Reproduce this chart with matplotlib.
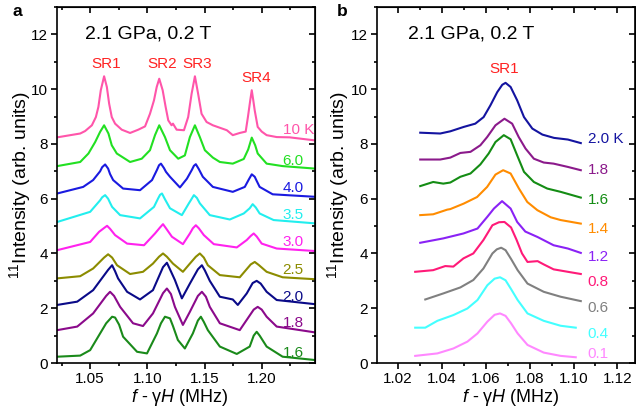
import matplotlib
matplotlib.use("Agg")
import matplotlib.pyplot as plt
from matplotlib.ticker import MultipleLocator

plt.rcParams["font.family"] = ["Liberation Sans", "DejaVu Sans"]
plt.rcParams["mathtext.fontset"] = "custom"
plt.rcParams["mathtext.rm"] = "Liberation Sans"
plt.rcParams["mathtext.it"] = "Liberation Sans:italic"

# ── panel a: spectra at 2.1 GPa, 0.2 T (offset by temperature) ───────────────
x_a_10 = [1.0212, 1.0413, 1.0456, 1.0515, 1.0550, 1.0572, 1.0593, 1.0622, 1.0646,
          1.0666, 1.0689, 1.0718, 1.0776, 1.0849, 1.0921, 1.0980, 1.1023, 1.1058,
          1.1082, 1.1104, 1.1134, 1.1160, 1.1183, 1.1212, 1.1224, 1.1256, 1.1320,
          1.1357, 1.1387, 1.1416, 1.1444, 1.1474, 1.1518, 1.1573, 1.1695, 1.1747,
          1.1808, 1.1860, 1.1880, 1.1900, 1.1913, 1.1926, 1.1939, 1.1965, 1.2000,
          1.2043, 1.2131, 1.2244, 1.2462]
y_a_10 = [8.24, 8.38, 8.47, 8.68, 8.98, 9.35, 9.96, 10.47, 10.08,
          9.47, 8.98, 8.74, 8.52, 8.40, 8.52, 8.64, 9.10, 9.59,
          10.08, 10.38, 9.96, 9.35, 8.86, 8.68, 8.74, 8.52, 8.50,
          8.98, 9.83, 10.47, 9.83, 9.10, 8.80, 8.68, 8.50, 8.32,
          8.40, 8.45, 9.00, 9.60, 9.96, 9.60, 9.22, 8.62, 8.45,
          8.32, 8.25, 8.24, 8.13]

x_a_6 = [1.0212, 1.0413, 1.0485, 1.0544, 1.0587, 1.0622, 1.0660, 1.0689, 1.0733,
         1.0849, 1.0951, 1.1023, 1.1067, 1.1104, 1.1154, 1.1198, 1.1270, 1.1328,
         1.1372, 1.1416, 1.1459, 1.1503, 1.1573, 1.1634, 1.1747, 1.1843, 1.1882,
         1.1913, 1.1943, 1.1965, 1.2043, 1.2183, 1.2462]
y_a_6 = [7.19, 7.34, 7.65, 8.07, 8.44, 8.68, 8.38, 7.95, 7.65,
         7.34, 7.46, 7.77, 8.32, 8.68, 8.25, 7.77, 7.46, 7.58,
         8.25, 8.68, 8.25, 7.77, 7.50, 7.34, 7.28, 7.45, 7.80,
         8.23, 7.95, 7.65, 7.28, 7.19, 7.10]

x_a_4 = [1.0212, 1.0439, 1.0526, 1.0587, 1.0605, 1.0631, 1.0657, 1.0674, 1.0701,
         1.0788, 1.0936, 1.1041, 1.1084, 1.1102, 1.1119, 1.1145, 1.1163, 1.1198,
         1.1285, 1.1346, 1.1389, 1.1407, 1.1424, 1.1450, 1.1485, 1.1573, 1.1747,
         1.1852, 1.1887, 1.1913, 1.1939, 1.1956, 1.1982, 1.2096, 1.2462]
y_a_4 = [6.19, 6.43, 6.68, 7.00, 7.15, 7.25, 7.10, 6.90, 6.68,
         6.37, 6.31, 6.68, 7.05, 7.22, 7.28, 7.12, 6.98, 6.80,
         6.41, 6.73, 7.05, 7.20, 7.26, 7.08, 6.80, 6.43, 6.25,
         6.43, 6.70, 6.89, 6.80, 6.65, 6.43, 6.16, 6.07]

x_a_35 = [1.0212, 1.05, 1.0587, 1.0605, 1.0631, 1.0657, 1.0674, 1.0692, 1.0762,
          1.0936, 1.1058, 1.1093, 1.1111, 1.1128, 1.1154, 1.1198, 1.1302, 1.1363,
          1.1381, 1.1407, 1.1433, 1.1459, 1.1546, 1.1721, 1.1843, 1.1895, 1.1921,
          1.1948, 1.1982, 1.2104, 1.2462]
y_a_35 = [5.15, 5.52, 5.94, 6.05, 6.13, 6.00, 5.85, 5.70, 5.40,
          5.28, 5.70, 6.00, 6.14, 6.19, 5.98, 5.65, 5.40, 5.83,
          5.95, 6.13, 6.03, 5.83, 5.40, 5.24, 5.46, 5.65, 5.80,
          5.68, 5.46, 5.22, 5.10]

x_a_3 = [1.0212, 1.05, 1.0578, 1.0622, 1.0648, 1.0674, 1.0718, 1.0823, 1.0971,
         1.1067, 1.1111, 1.1137, 1.1163, 1.1215, 1.1311, 1.1372, 1.1398, 1.1424,
         1.1450, 1.1494, 1.1581, 1.1782, 1.1869, 1.1904, 1.1930, 1.1956, 1.2000,
         1.2131, 1.2462]
y_a_3 = [4.12, 4.42, 4.79, 4.93, 5.01, 4.90, 4.67, 4.36, 4.30,
         4.73, 4.95, 5.07, 4.92, 4.61, 4.34, 4.73, 4.92, 5.03,
         4.92, 4.67, 4.34, 4.22, 4.49, 4.64, 4.73, 4.62, 4.36,
         4.18, 4.09]

x_a_25 = [1.0212, 1.0413, 1.0526, 1.0622, 1.0657, 1.0692, 1.0735, 1.0849, 1.0962,
          1.1049, 1.1102, 1.1137, 1.1171, 1.1224, 1.1311, 1.1372, 1.1424, 1.1459,
          1.1494, 1.1529, 1.1634, 1.1808, 1.1904, 1.1939, 1.1974, 1.2043, 1.2183,
          1.2462]
y_a_25 = [3.09, 3.17, 3.45, 3.85, 3.97, 3.85, 3.57, 3.25, 3.33,
          3.63, 3.88, 4.00, 3.88, 3.63, 3.33, 3.63, 3.88, 4.00,
          3.85, 3.57, 3.21, 3.13, 3.60, 3.69, 3.58, 3.33, 3.13,
          3.06]

x_a_2 = [1.0212, 1.0387, 1.0526, 1.0657, 1.0692, 1.0718, 1.0744, 1.0823, 1.0936,
         1.1049, 1.1137, 1.1171, 1.1198, 1.1241, 1.1302, 1.1372, 1.1442, 1.1477,
         1.1503, 1.1546, 1.1634, 1.1747, 1.1791, 1.1869, 1.1921, 1.1956, 1.1991,
         1.2043, 1.2131, 1.2462]
y_a_2 = [2.12, 2.24, 2.66, 3.40, 3.57, 3.35, 3.09, 2.60, 2.32,
         2.66, 3.50, 3.66, 3.42, 3.03, 2.36, 2.90, 3.42, 3.57,
         3.38, 3.00, 2.42, 2.32, 2.12, 2.54, 2.92, 3.00, 2.90,
         2.60, 2.30, 2.15]

x_a_18 = [1.0212, 1.0387, 1.0526, 1.0640, 1.0674, 1.0709, 1.0762, 1.0875, 1.0962,
          1.1049, 1.1137, 1.1171, 1.1206, 1.1241, 1.1311, 1.1372, 1.1442, 1.1477,
          1.1512, 1.1546, 1.1634, 1.1808, 1.1930, 1.1965, 1.2000, 1.2043, 1.2131,
          1.2462]
y_a_18 = [1.20, 1.33, 1.81, 2.45, 2.60, 2.45, 2.05, 1.45, 1.35,
          1.81, 2.55, 2.72, 2.52, 2.05, 1.39, 1.87, 2.45, 2.60,
          2.42, 2.05, 1.45, 1.20, 1.95, 2.05, 1.95, 1.69, 1.33,
          1.12]

x_a_16 = [1.0212, 1.0413, 1.05, 1.0587, 1.0640, 1.0692, 1.0718, 1.0753, 1.0788,
          1.0910, 1.0997, 1.1084, 1.1119, 1.1154, 1.1198, 1.1224, 1.1267, 1.1328,
          1.1398, 1.1442, 1.1468, 1.1494, 1.1529, 1.1634, 1.1782, 1.1895, 1.1930,
          1.1956, 1.1982, 1.2043, 1.2183, 1.2462]
y_a_16 = [0.23, 0.27, 0.47, 1.08, 1.45, 1.69, 1.66, 1.40, 0.96,
          0.41, 0.35, 1.08, 1.45, 1.69, 1.63, 1.35, 0.84, 0.53,
          1.08, 1.55, 1.69, 1.50, 1.20, 0.60, 0.33, 0.60, 1.00,
          1.14, 1.00, 0.60, 0.23, 0.11]

labels_a = ["10 K", "6.0", "4.0", "3.5", "3.0", "2.5", "2.0", "1.8", "1.6"]
label_y_a = [8.5, 7.37, 6.38, 5.4, 4.42, 3.39, 2.42, 1.45, 0.38]
colors_a = ["#FF55AA", "#22E022", "#1A1AE0", "#22EEEE", "#FF22EE",
            "#8C8C00", "#0A0A88", "#8B0A8B", "#1A8A1A"]
peaks_a = ["SR1", "SR2", "SR3", "SR4"]
peak_x_a = [1.064, 1.1128, 1.1433, 1.1948]
peak_y_a = [10.9, 10.9, 10.9, 10.4]

# ── panel b: SR1 line at low temperature ──────────────────────────────────────
x_b_20 = [1.0301, 1.0392, 1.0438, 1.0499, 1.0552, 1.0590, 1.0621, 1.0652, 1.0675,
          1.0690, 1.0713, 1.0743, 1.0774, 1.0812, 1.0858, 1.0911, 1.0974, 1.1033]
y_b_20 = [8.41, 8.38, 8.46, 8.62, 8.74, 8.98, 9.41, 9.89, 10.16,
          10.23, 10.08, 9.59, 8.98, 8.56, 8.34, 8.22, 8.16, 8.03]

x_b_18 = [1.0301, 1.0392, 1.0438, 1.0484, 1.0530, 1.0575, 1.0606, 1.0644, 1.0685,
          1.0720, 1.0750, 1.0781, 1.0819, 1.0864, 1.0909, 1.0974, 1.1033]
y_b_18 = [7.43, 7.43, 7.50, 7.67, 7.71, 7.95, 8.25, 8.68, 8.92,
          8.74, 8.25, 7.83, 7.46, 7.32, 7.28, 7.16, 7.04]

x_b_16 = [1.0301, 1.0360, 1.0406, 1.0438, 1.0484, 1.0530, 1.0575, 1.0613, 1.0644,
          1.0682, 1.0713, 1.0743, 1.0774, 1.0819, 1.0880, 1.0941, 1.1033]
y_b_16 = [6.46, 6.61, 6.55, 6.59, 6.80, 6.92, 7.25, 7.65, 8.07,
          8.32, 8.17, 7.58, 6.98, 6.61, 6.37, 6.25, 6.04]

x_b_14 = [1.0301, 1.0360, 1.0424, 1.0438, 1.0499, 1.0560, 1.0606, 1.0644, 1.0679,
          1.0713, 1.0751, 1.0789, 1.0835, 1.0896, 1.0941, 1.1033]
y_b_14 = [5.40, 5.43, 5.60, 5.62, 5.82, 6.06, 6.43, 6.88, 7.04,
          6.92, 6.37, 5.88, 5.58, 5.32, 5.22, 5.09]

x_b_12 = [1.0301, 1.0406, 1.0498, 1.0562, 1.0607, 1.0637, 1.0674, 1.0713, 1.0743,
          1.0780, 1.0836, 1.0909, 1.0974, 1.1033]
y_b_12 = [4.39, 4.55, 4.73, 4.91, 5.34, 5.64, 5.91, 5.64, 5.15,
          4.80, 4.60, 4.30, 4.18, 4.02]

x_b_08 = [1.0278, 1.0360, 1.0415, 1.0452, 1.0498, 1.0543, 1.0589, 1.0630, 1.0660,
          1.0685, 1.0715, 1.0740, 1.0765, 1.0790, 1.0836, 1.0864, 1.0909, 1.0974,
          1.1033]
y_b_08 = [3.33, 3.39, 3.54, 3.52, 3.82, 4.00, 4.49, 5.03, 5.14,
          5.15, 4.95, 4.50, 4.00, 3.69, 3.72, 3.60, 3.42, 3.33,
          3.25]

x_b_06 = [1.0324, 1.0406, 1.0484, 1.0543, 1.0589, 1.0630, 1.0650, 1.0670, 1.0690,
          1.0715, 1.0745, 1.0790, 1.0864, 1.0941, 1.1033]
y_b_06 = [2.32, 2.54, 2.76, 3.03, 3.45, 4.00, 4.15, 4.21, 4.12,
          3.80, 3.39, 2.90, 2.60, 2.42, 2.26]

x_b_04 = [1.0278, 1.0324, 1.0379, 1.0452, 1.0516, 1.0562, 1.0607, 1.0640, 1.0665,
          1.0690, 1.0715, 1.0745, 1.0790, 1.0864, 1.0941, 1.1010]
y_b_04 = [1.29, 1.29, 1.54, 1.75, 1.99, 2.30, 2.84, 3.08, 3.13,
          3.02, 2.70, 2.30, 1.81, 1.54, 1.36, 1.29]

x_b_01 = [1.0278, 1.0379, 1.0452, 1.0516, 1.0562, 1.0607, 1.0640, 1.0665, 1.0690,
          1.0715, 1.0745, 1.0790, 1.0864, 1.0941, 1.1010]
y_b_01 = [0.26, 0.35, 0.53, 0.78, 1.08, 1.51, 1.76, 1.81, 1.72,
          1.45, 1.08, 0.66, 0.38, 0.26, 0.21]

labels_b = ["2.0 K", "1.8", "1.6", "1.4", "1.2", "0.8", "0.6", "0.4", "0.1"]
label_y_b = [8.17, 7.04, 5.94, 4.89, 3.88, 2.94, 2.02, 1.06, 0.33]
colors_b = ["#1414A0", "#8B1A8B", "#148C14", "#FF8C00", "#8A22F5",
            "#FF1A78", "#808080", "#44FFFF", "#FF88FF"]


def style_axes(ax, xmajor, xminor, xlim, title_x, xlab_x, ylab_x):
    ax.set_xlim(*xlim)
    ax.set_ylim(0, 13)
    ax.xaxis.set_major_locator(MultipleLocator(xmajor))
    ax.xaxis.set_minor_locator(MultipleLocator(xminor))
    ax.yaxis.set_major_locator(MultipleLocator(2))
    ax.yaxis.set_minor_locator(MultipleLocator(1))
    ax.xaxis.set_major_formatter(plt.FuncFormatter(lambda v, p: f"{v:.2f}"))
    ax.tick_params(which="both", direction="out", width=1.2, labelsize=11,
                   colors="black", pad=2)
    ax.tick_params(which="major", length=4.5)
    ax.tick_params(which="minor", length=2.5)
    for sp in ax.spines.values():
        sp.set_linewidth(1.2)
    # mirrored ticks on top/right point inwards
    top = ax.secondary_xaxis("top")
    top.xaxis.set_major_locator(MultipleLocator(xmajor))
    top.xaxis.set_minor_locator(MultipleLocator(xminor))
    top.tick_params(which="both", direction="in", width=1.2, labeltop=False)
    top.tick_params(which="major", length=4.5)
    top.tick_params(which="minor", length=2.5)
    right = ax.secondary_yaxis("right")
    right.yaxis.set_major_locator(MultipleLocator(2))
    right.yaxis.set_minor_locator(MultipleLocator(1))
    right.tick_params(which="both", direction="in", width=1.2, labelright=False)
    right.tick_params(which="major", length=4.5)
    right.tick_params(which="minor", length=2.5)
    ax.set_xlabel("$f$ - γ$H$ (MHz)", fontsize=13, va="center")
    ax.xaxis.set_label_coords(xlab_x, -0.098)
    ax.set_ylabel("$^{11}$Intensity (arb. units)", fontsize=14, va="center")
    ax.yaxis.set_label_coords(ylab_x, 0.5)
    ax.text(title_x, 0.925, "2.1 GPa, 0.2 T", transform=ax.transAxes,
            fontsize=14, va="center", ha="left")


fig = plt.figure(figsize=(6.36, 4.16), dpi=100)
ax_a = fig.add_axes([0.0896, 0.1274, 0.4057, 0.8558])
ax_b = fig.add_axes([0.5928, 0.1274, 0.4056, 0.8558])

traces_a = [(x_a_10, y_a_10), (x_a_6, y_a_6), (x_a_4, y_a_4), (x_a_35, y_a_35),
            (x_a_3, y_a_3), (x_a_25, y_a_25), (x_a_2, y_a_2), (x_a_18, y_a_18),
            (x_a_16, y_a_16)]
for (xs, ys), c, lab, ly in zip(traces_a, colors_a, labels_a, label_y_a):
    ax_a.plot(xs, ys, color=c, lw=1.5)
    ax_a.text(1.2183, ly, lab, color=c, fontsize=11, va="center", ha="left")
for name, px, py in zip(peaks_a, peak_x_a, peak_y_a):
    ax_a.text(px, py, name, color="#FF2222", fontsize=11, ha="center", va="center")
style_axes(ax_a, 0.05, 0.025, (1.021, 1.2466), 0.109, 0.477, -0.145)

traces_b = [(x_b_20, y_b_20), (x_b_18, y_b_18), (x_b_16, y_b_16), (x_b_14, y_b_14),
            (x_b_12, y_b_12), (x_b_08, y_b_08), (x_b_06, y_b_06), (x_b_04, y_b_04),
            (x_b_01, y_b_01)]
for (xs, ys), c, lab, ly in zip(traces_b, colors_b, labels_b, label_y_b):
    ax_b.plot(xs, ys, color=c, lw=1.5)
    ax_b.text(1.1065, ly, lab, color=c, fontsize=11, va="center", ha="left")
ax_b.text(1.0685, 10.72, "SR1", color="#FF2222", fontsize=11, ha="center", va="center")
style_axes(ax_b, 0.02, 0.01, (1.0104, 1.128), 0.12, 0.52, -0.151)

fig.text(0.019, 0.972, "a", fontsize=12.5, fontweight="bold", va="center")
fig.text(0.53, 0.972, "b", fontsize=12.5, fontweight="bold", va="center")

fig.savefig("out.png", dpi=100)
